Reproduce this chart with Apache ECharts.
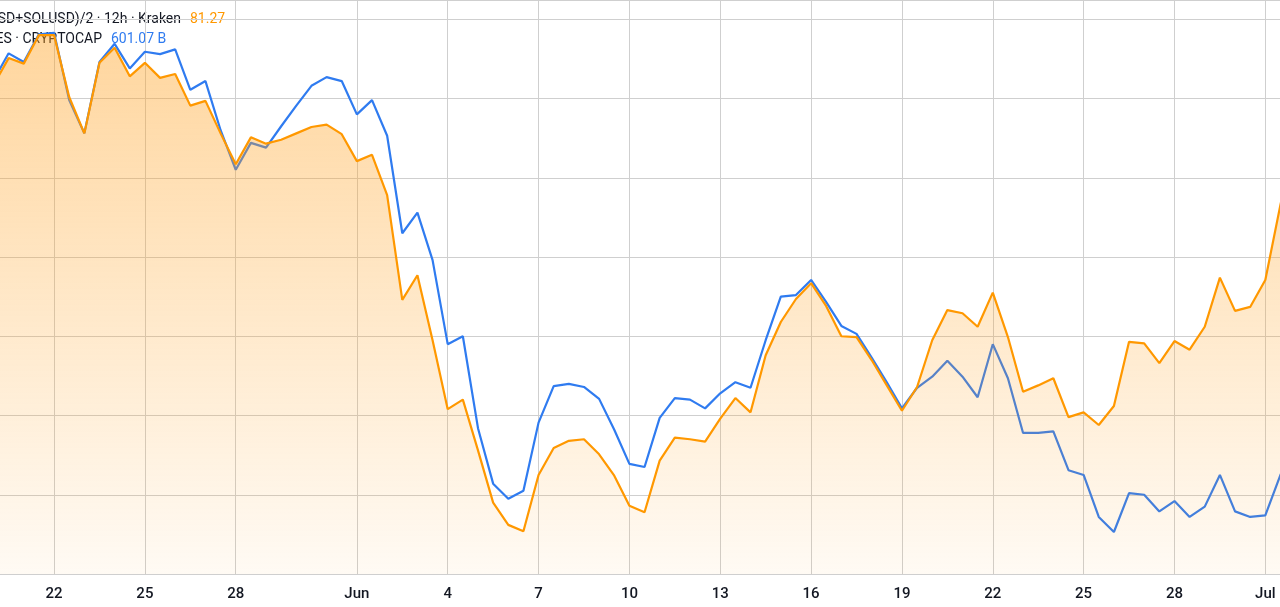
<!DOCTYPE html>
<html>
<head>
<meta charset="utf-8">
<script src="https://cdn.jsdelivr.net/npm/echarts@6/dist/echarts.min.js"></script>
<style>html,body{margin:0;padding:0;background:#fff}#chart{width:1280px;height:607px}</style>
</head>
<body>
<div id="chart"></div>
<script>
// half-day steps, index 0 = May 22 00:00
var startIndex = -4;
var orangeVals = [61.7,65.1,64.4,68.0,68.0,60.2,55.6,64.5,66.4,62.8,64.5,62.6,63.1,59.1,59.7,55.6,51.7,55.1,54.3,54.8,
  55.6,56.4,56.7,55.5,52.1,52.9,47.8,34.6,37.7,29.5,20.8,22.0,15.6,9.0,6.2,5.4,12.5,15.9,16.8,17.0,
  15.1,12.4,8.6,7.8,14.3,17.2,17.0,16.7,19.6,22.2,20.4,27.6,31.8,34.7,36.7,33.8,30.0,29.9,27.0,23.8,
  20.6,23.6,29.5,33.3,32.9,31.2,35.5,29.9,23.0,23.8,24.7,19.8,20.4,18.8,21.2,29.3,29.1,26.6,29.4,28.3,
  31.2,37.4,33.2,33.7,37.1,46.6,55.0];
var blueVals = [62.3,65.7,64.6,68.1,68.3,59.8,55.6,64.6,66.9,63.8,65.9,65.6,66.2,61.1,62.2,56.0,51.0,54.4,53.8,56.5,
  59.1,61.6,62.7,62.2,58.0,59.8,55.3,43.0,45.6,39.6,29.0,30.0,18.4,11.4,9.5,10.5,19.1,23.7,24.0,23.6,
  22.1,18.2,13.9,13.5,19.7,22.2,22.0,20.9,22.8,24.2,23.5,29.5,35.0,35.2,37.1,34.3,31.3,30.3,27.3,24.2,
  20.9,23.5,24.9,26.9,24.9,22.3,29.0,24.7,17.8,17.8,18.0,13.1,12.5,7.2,5.3,10.2,10.0,7.9,9.2,7.2,
  8.5,12.5,7.9,7.2,7.4,12.5,17.0];
var tickIdx = [0,6,12,20,26,32,38,44,50,56,62,68,74,80];
var tickLabels = ['22','25','28','Jun','4','7','10','13','16','19','22','25','28','Jul'];

function pairs(vals){
  return vals.map(function(v,i){ return [startIndex+i, v]; });
}

var chart = echarts.init(document.getElementById('chart'));
var option = {
  animation: false,
  grid: {left:0, right:0, top:0, bottom:33},
  xAxis: {
    type:'value', min:-3.57, max:80.97,
    axisLine:{show:false},
    axisTick:{show:false, customValues:tickIdx},
    splitLine:{show:true, lineStyle:{color:'#cfcfcf', width:1}},
    axisLabel:{
      customValues:tickIdx, color:'#131722', fontSize:15, fontFamily:'Roboto', fontWeight:500, margin:13,
      formatter:function(v){ var k = tickIdx.indexOf(Math.round(v)); return k<0?'':tickLabels[k]; }
    }
  },
  yAxis: {
    type:'value', min:0, max:72.43, interval:10,
    axisLine:{show:false}, axisTick:{show:false}, axisLabel:{show:false},
    splitLine:{lineStyle:{color:'#cfcfcf', width:1}}
  },
  series: [
    {
      type:'line', data:pairs(blueVals), symbol:'none',
      lineStyle:{color:'#2f7bf0', width:2.2}, z:2
    },
    {
      type:'line', data:pairs(orangeVals), symbol:'none',
      lineStyle:{color:'#ff9800', width:2.2},
      areaStyle:{color:new echarts.graphic.LinearGradient(0,0,0,1,[
        {offset:0, color:'rgba(255,160,30,0.62)'},
        {offset:1, color:'rgba(255,160,30,0.07)'}
      ])},
      z:3
    }
  ],
  graphic: [
    {type:'text', x:181, y:12, style:{text:'(BTCUSD+ETHUSD+SOLUSD)/2 · 12h · Kraken', fill:'#131722', font:'14px Roboto', textAlign:'right'}},
    {type:'text', x:190, y:12, style:{text:'81.27', fill:'#ff9800', font:'14px Roboto'}},
    {type:'text', x:102, y:32, style:{text:'TOTAL ES · CRYPTOCAP', fill:'#131722', font:'14px Roboto', textAlign:'right'}},
    {type:'text', x:111, y:32, style:{text:'601.07 B', fill:'#2f7bf0', font:'14px Roboto'}}
  ]
};
chart.setOption(option);
</script>
</body>
</html>
